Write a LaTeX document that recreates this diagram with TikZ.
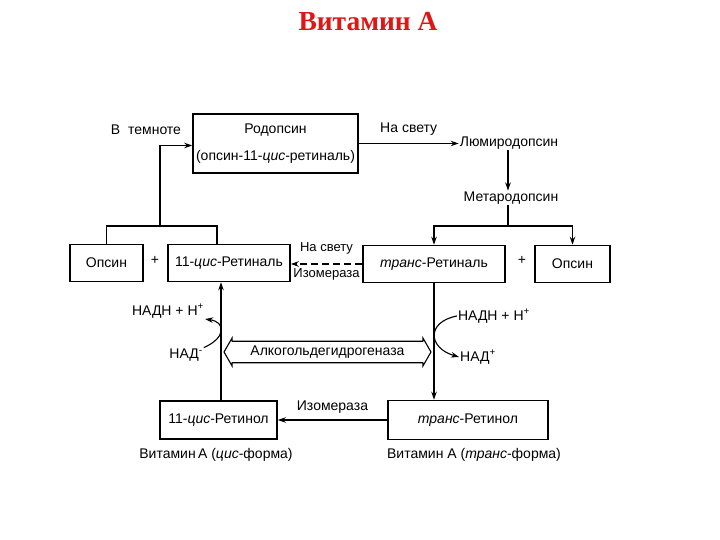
\documentclass[tikz,border=0pt]{standalone}
\usepackage{fontspec}
\setmainfont{Liberation Sans}
\newfontfamily\titlefont{Liberation Serif}
\usetikzlibrary{shapes.arrows, arrows.meta}
\definecolor{titlered}{RGB}{224,22,22}
\begin{document}
\begin{tikzpicture}[x=1pt, y=-1pt, every node/.style={font=\fontsize{14}{16}\selectfont},
  box/.style={rectangle, draw, line width=1.6pt, inner sep=2pt},
  arrow/.style={->, line width=1.1pt, >={Stealth[length=8pt, width=5.5pt]}},
  line/.style={line width=1.1pt},
  lbl/.style={inner sep=1pt},
  small/.style={inner sep=1pt, font=\fontsize{13}{14}\selectfont}
]
  \useasboundingbox[fill=white] (0,0) rectangle (720,540);

  % Заголовок
  \node[font=\titlefont\fontsize{27.5}{30}\selectfont\bfseries, text=titlered] (title) at (368,22) {Витамин А};

  % Родопсин и продукты распада
  \node[box, minimum width=165, minimum height=59, align=center] (rod) at (275.5,143.5)
    {Родопсин\\[11pt](опсин-11-\textit{цис}-ретиналь)};
  \node[lbl] (dark) at (146,130) {В \ темноте};
  \node[lbl] (lumi) at (509,143) {Люмиродопсин};
  \node[lbl] (meta) at (511,198) {Метародопсин};

  % Ряд ретиналей
  \node[box, minimum width=73, minimum height=37] (opsL) at (106.5,263) {Опсин};
  \node[lbl] (plusL) at (155,260) {+};
  \node[box, minimum width=122, minimum height=37] (cisRal) at (229,263) {11-\textit{цис}-Ретиналь};
  \node[box, minimum width=142, minimum height=37] (transRal) at (434,264) {\textit{транс}-Ретиналь};
  \node[lbl] (plusR) at (522,260) {+};
  \node[box, minimum width=75, minimum height=37] (opsR) at (572.5,264) {Опсин};

  % Ретинолы
  \node[box, minimum width=117, minimum height=38] (cisRol) at (218.5,420) {11-\textit{цис}-Ретинол};
  \node[box, minimum width=160, minimum height=39] (transRol) at (468,420) {\textit{транс}-Ретинол};
  \node[lbl] (vitL) at (216,455) {Витамин\,А (\textit{цис}-форма)};
  \node[lbl] (vitR) at (474,455) {Витамин А (\textit{транс}-форма)};

  % Алкогольдегидрогеназа
  \node[double arrow, draw, line width=1.1pt, minimum height=207, minimum width=28,
        double arrow head extend=3pt, double arrow tip angle=120, inner sep=3pt] (adh) at (327.5,352)
    {Алкогольдегидрогеназа};
  \node[lbl] (nadhL) at (168,311) {НАДН + Н\textsuperscript{+}};
  \node[lbl] (nadL) at (186,355) {НАД\textsuperscript{-}};
  \node[lbl] (nadhR) at (494,316) {НАДН + Н\textsuperscript{+}};
  \node[lbl] (nadR) at (478,357) {НАД\textsuperscript{+}};

  % Связи
  \coordinate (jl) at (160,226);
  \coordinate (jr) at (508,226);
  \draw[line] (opsL.north) |- (jl) -| ([xshift=-12pt]cisRal.north);
  \draw[arrow] (jl) |- ([yshift=-2pt]rod.west);
  \draw[arrow] (rod.east) -- (rod.east -| lumi.west) node[midway, above=4pt] {На свету};
  \draw[arrow] (lumi.south -| jr) -- (meta.north -| jr);
  \draw[line] (meta.south -| jr) -- (jr);
  \draw[arrow] (jr) -| (transRal.north);
  \draw[arrow] (jr) -| (opsR.north);
  \draw[arrow, line width=2pt, dash pattern=on 7pt off 4pt] (transRal.west) -- (transRal.west -| cisRal.east)
    node[small, midway, above=8pt] {На свету} node[small, midway, below=3pt] {Изомераза};
  \draw[arrow] (cisRol.north -| 221,0) -- (cisRal.south -| 221,0);
  \draw[arrow] (transRal.south) -- (transRal.south |- transRol.north);
  \draw[arrow] (transRol.west) -- (cisRol.east) node[midway, above=3pt] {Изомераза};
  \draw[arrow] (nadL.north east) .. controls (226,338) and (226,322) .. (nadhL.south east);
  \draw[arrow] (nadhR.west) .. controls (426,322) and (428,348) .. (nadR.west);
\end{tikzpicture}
\end{document}
